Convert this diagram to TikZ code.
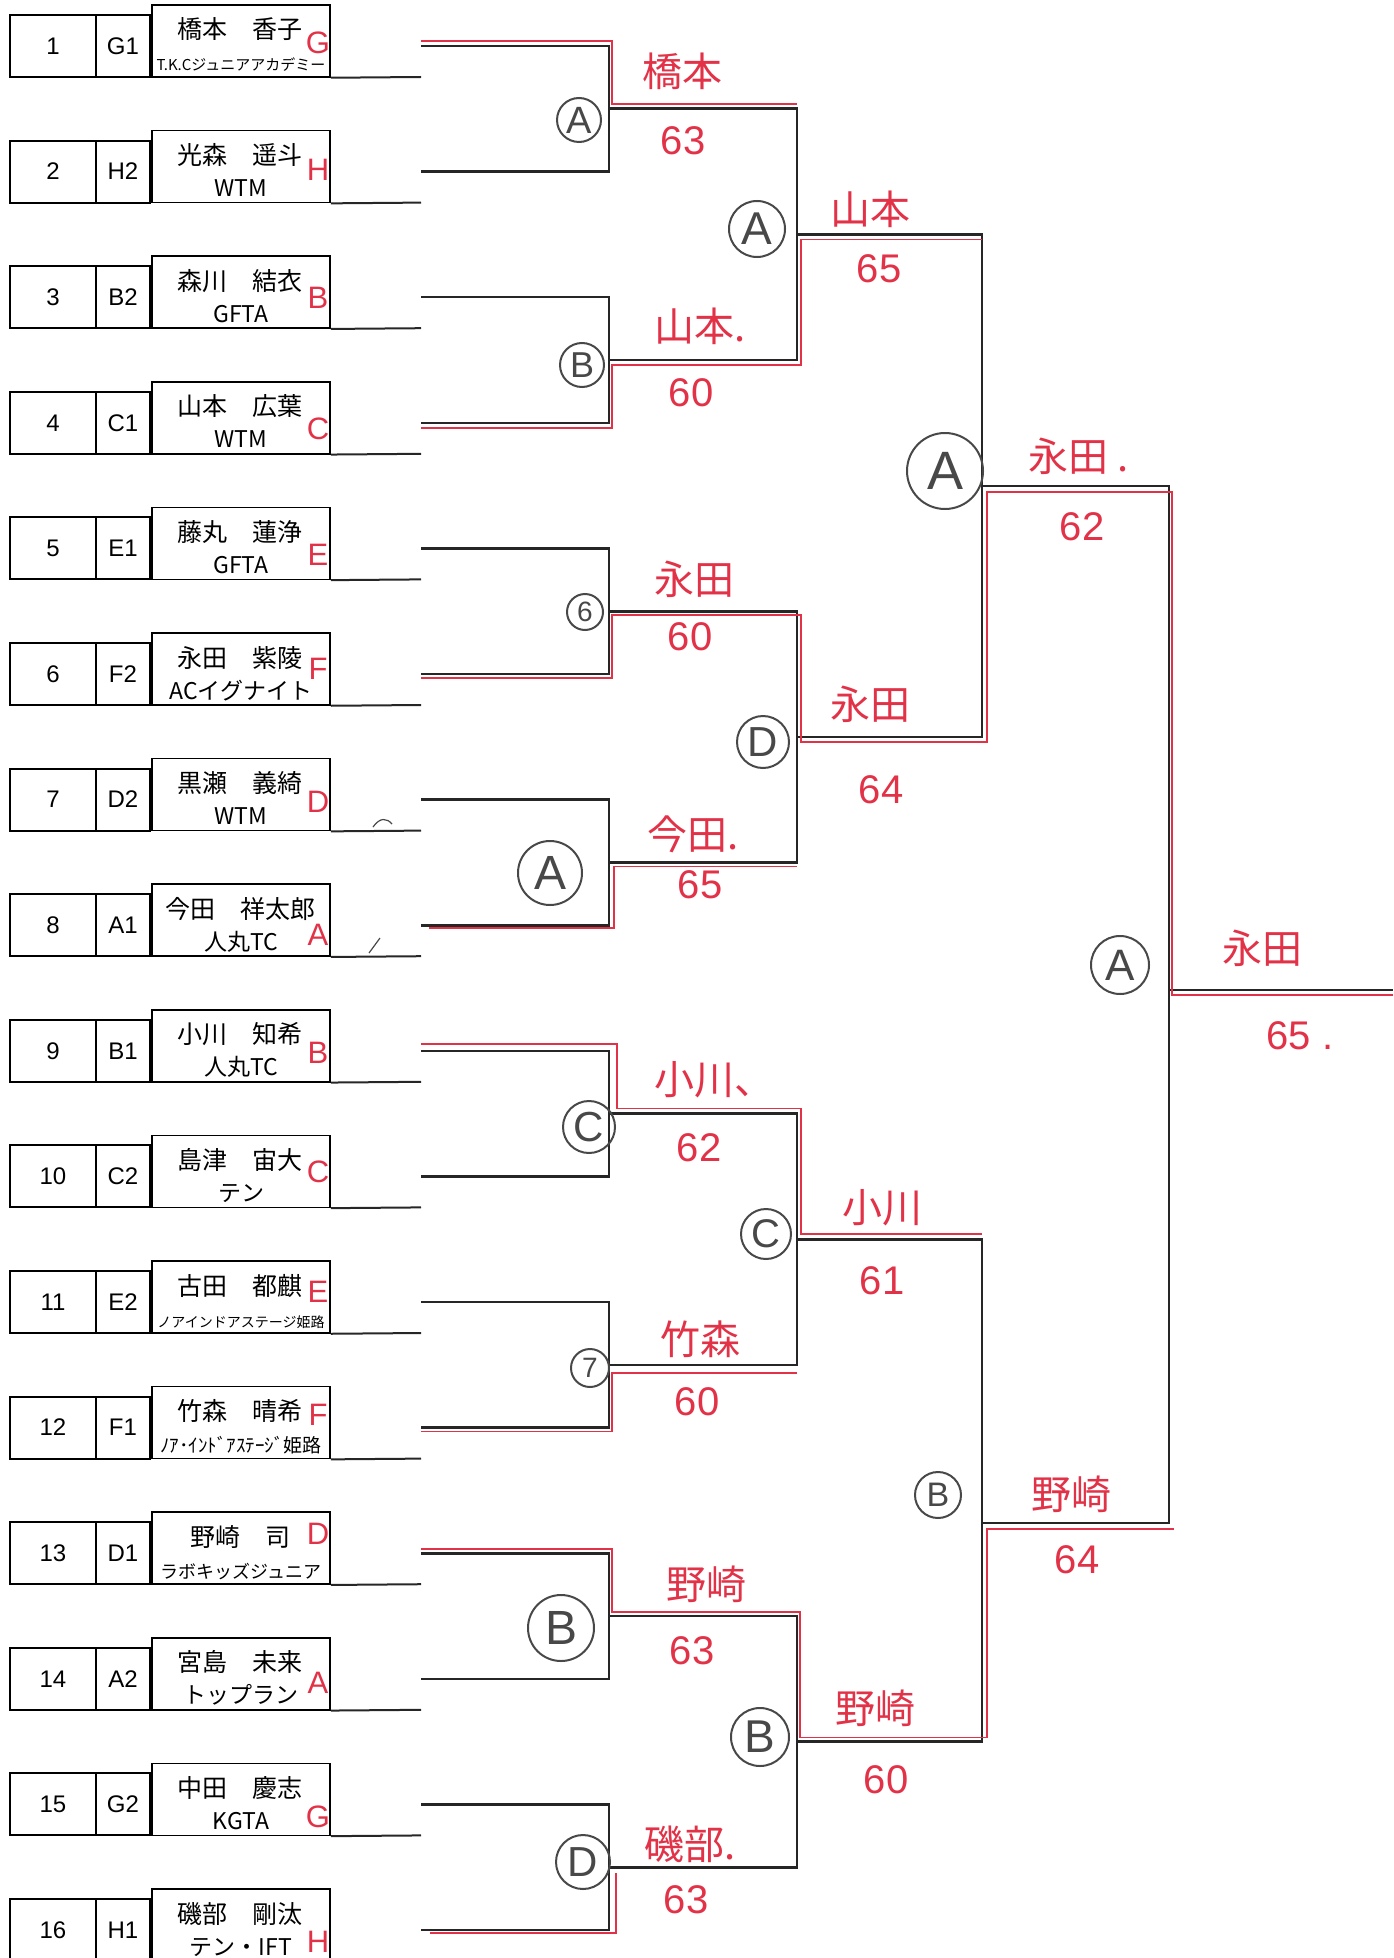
\documentclass[tikz,border=0pt]{standalone}
\usepackage{fontspec}
\setmainfont{Liberation Sans}
\newfontfamily\jp{Noto Sans CJK JP}
\usetikzlibrary{calc}
\definecolor{pen}{RGB}{226,50,72}
\definecolor{lead}{RGB}{72,72,72}

\begin{document}
\begin{tikzpicture}[x=1pt,y=-1pt,
  cell/.style={draw,line width=2pt,minimum height=62pt,inner sep=0pt,font=\fontsize{24}{24}\selectfont},
  namebox/.style={draw,line width=1.5pt,minimum width=178pt,minimum height=72pt,inner sep=0pt},
  pname/.style={inner sep=0pt,anchor=base,font=\jp\fontsize{25}{25}\selectfont},
  grp/.style={pen,inner sep=0pt,font=\fontsize{31}{31}\selectfont},
  rowline/.style={line width=2pt,black!85},
  bline/.style={line width=2.6pt,black!85},
  win/.style={pen,line width=1.5pt},
  who/.style={pen,inner sep=0pt,font=\jp\fontsize{40}{40}\selectfont},
  score/.style={pen,inner sep=0pt,font=\fontsize{40}{40}\selectfont},
  court/.style 2 args={circle,draw=lead,line width=2pt,text=lead,inner sep=0pt,minimum size=#1,font=\fontsize{#2}{#2}\selectfont}]
\path[use as bounding box] (0,0) rectangle (1393,1958);

\foreach \i/\sd/\nm/\club/\fs/\grpl/\gy in {
  1/G1/橋本　香子/T.K.Cジュニアアカデミー/15/G/-34,
  2/H2/光森　遥斗/WTM/23/H/-33,
  3/B2/森川　結衣/GFTA/23/B/-30,
  4/C1/山本　広葉/WTM/23/C/-25,
  5/E1/藤丸　蓮浄/GFTA/23/E/-25,
  6/F2/永田　紫陵/ACイグナイト/23/F/-36,
  7/D2/黒瀬　義綺/WTM/23/D/-29,
  8/A1/今田　祥太郎/人丸TC/23/A/-21,
  9/B1/小川　知希/人丸TC/23/B/-29,
  10/C2/島津　宙大/テン/23/C/-36,
  11/E2/古田　都麒/ノアインドアステージ姫路/14/E/-41,
  12/F1/竹森　晴希/ﾉｱ･ｲﾝﾄﾞｱｽﾃｰｼﾞ姫路/19/F/-44,
  13/D1/野崎　司/ラボキッズジュニア/18/D/-50,
  14/A2/宮島　未来/トップラン/23/A/-27,
  15/G2/中田　慶志/KGTA/23/G/-19,
  16/H1/磯部　剛汰/テン・IFT/23/H/-19}{
  \pgfmathsetmacro\yb{77+125.6*(\i-1)}
  \node[cell,minimum width=86pt] (num\i) at (53,\yb-31) {\i};
  \node[cell,minimum width=54pt] (sd\i) at (123,\yb-31) {\sd};
  \node[namebox] (nb\i) at (241,\yb-36) {};
  \node[pname] (nm\i) at (240,\yb-38) {\nm};
  \node[pname,font=\jp\fontsize{\fs}{\fs}\selectfont] (cl\i) at (241,\yb-6) {\club};
  \node[grp] (gp\i) at (318,\yb+\gy) {\grpl};
  \coordinate (r\i) at (421,\yb);
  \coordinate (s\i) at (421,\yb-31);
  \draw[rowline] (nb\i.south east) -- (r\i);
}

\foreach \k in {1,...,8}{
  \pgfmathtruncatemacro\ka{2*\k-1}
  \pgfmathtruncatemacro\kb{2*\k}
  \pgfmathsetmacro\yq{108.8+251.2*(\k-1)}
  \coordinate (q\k) at (609,\yq);
  \coordinate (qe\k) at (797,\yq);
  \draw[bline] (s\ka) -| (q\k) |- (s\kb);
}
\foreach \j/\yp in {1/234.4,2/736.8,3/1239.2,4/1741.6}{
  \pgfmathtruncatemacro\ja{2*\j-1}
  \pgfmathtruncatemacro\jb{2*\j}
  \coordinate (p\j) at (797,\yp);
  \coordinate (pe\j) at (982,\yp);
  \draw[bline] (q\ja) -| (p\j) |- (q\jb);
}
\coordinate (t1) at (982,486);
\coordinate (te1) at (1169,486);
\coordinate (t2) at (982,1523);
\coordinate (te2) at (1169,1523);
\coordinate (w) at (1169,990);
\coordinate (we) at (1393,990);
\draw[bline] (p1) -| (t1) |- (p2);
\draw[bline] (p3) -| (t2) |- (p4);
\draw[bline] (t1) -| (w) |- (t2);
\draw[bline] (w) -- (we);

\draw[win] ([yshift=5pt]s1) -| ([xshift=3pt,yshift=5pt]q1) -- ([yshift=5pt]qe1);
\draw[win] ([yshift=-5pt]s4) -| ([xshift=3pt,yshift=-5pt]q2) -| ([xshift=4pt,yshift=-5pt]p1) -- ([yshift=-5pt]pe1);
\draw[win] ([yshift=-4pt]s6) -| ([xshift=3pt,yshift=-4pt]q3) -| ([xshift=4pt,yshift=-5pt]p2) -| ([xshift=5pt,yshift=-6pt]t1) -| ([xshift=3pt,yshift=-5pt]w) -- ([yshift=-5pt]we);
\draw[win] ([xshift=8pt,yshift=-3pt]s8) -| ([xshift=5pt,yshift=-4pt]q4) -- ([yshift=-4pt]qe4);
\draw[win] ([yshift=7pt]s9) -| ([xshift=8pt,yshift=5pt]q5) -| ([xshift=4pt,yshift=5pt]p3) -- ([yshift=5pt]pe3);
\draw[win] ([yshift=-4pt]s12) -| ([xshift=3pt,yshift=-8pt]q6) -- ([yshift=-8pt]qe6);
\draw[win] ([yshift=4pt]s13) -| ([xshift=3pt,yshift=4pt]q7) -| ([xshift=3pt,yshift=4pt]p4) -| ([xshift=5pt,yshift=-6pt]t2) -- ([xshift=5pt,yshift=-6pt]te2);
\draw[win] ([xshift=9pt,yshift=-3pt]s16) -| ([xshift=7pt,yshift=-6pt]q8);

\node[court={44pt}{38}] (c11) at (579,120) {A};
\node[court={44pt}{36}] (c12) at (582,365) {B};
\node[court={36pt}{28}] (c13) at (585,612) {6};
\node[court={64pt}{48}] (c14) at (550,873) {A};
\node[court={52pt}{42}] (c15) at (589,1127) {C};
\node[court={38pt}{28}] (c16) at (590,1368) {7};
\node[court={66pt}{48}] (c17) at (561,1628) {B};
\node[court={54pt}{42}] (c18) at (583,1862) {D};
\node[court={56pt}{46}] (c21) at (757,229) {A};
\node[court={52pt}{42}] (c22) at (763,742) {D};
\node[court={50pt}{40}] (c23) at (766,1234) {C};
\node[court={58pt}{46}] (c24) at (760,1737) {B};
\node[court={76pt}{54}] (c31) at (945,471) {A};
\node[court={46pt}{34}] (c32) at (938,1495) {B};
\node[court={58pt}{44}] (c41) at (1120,965) {A};

\node[who] (n11) at (682,71) {橋本};
\node[score] (g11) at (683,141) {63};
\node[who] (n12) at (700,326) {山本.};
\node[score] (g12) at (691,393) {60};
\node[who] (n13) at (694,579) {永田};
\node[score] (g13) at (690,637) {60};
\node[who] (n14) at (693,834) {今田.};
\node[score] (g14) at (700,885) {65};
\node[who] (n15) at (714,1080) {小川、};
\node[score] (g15) at (699,1148) {62};
\node[who] (n16) at (700,1339) {竹森};
\node[score] (g16) at (697,1402) {60};
\node[who] (n17) at (706,1584) {野崎};
\node[score] (g17) at (692,1651) {63};
\node[who] (n18) at (690,1844) {磯部.};
\node[score] (g18) at (686,1900) {63};
\node[who] (n21) at (870,209) {山本};
\node[score] (g21) at (879,269) {65};
\node[who] (n22) at (870,704) {永田};
\node[score] (g22) at (881,790) {64};
\node[who] (n23) at (882,1208) {小川};
\node[score] (g23) at (882,1281) {61};
\node[who] (n24) at (875,1708) {野崎};
\node[score] (g24) at (886,1780) {60};
\node[who] (n31) at (1079,456) {永田 .};
\node[score] (g31) at (1082,527) {62};
\node[who] (n32) at (1071,1494) {野崎};
\node[score] (g32) at (1077,1560) {64};
\node[who] (n41) at (1262,948) {永田};
\node[score] (g41) at (1300,1036) {65 .};

\draw[lead,line width=1.2pt] (373,827) .. controls (380,817) and (387,818) .. (392,824);
\draw[lead,line width=1.2pt] (369,953) -- (380,938);
\end{tikzpicture}
\end{document}
